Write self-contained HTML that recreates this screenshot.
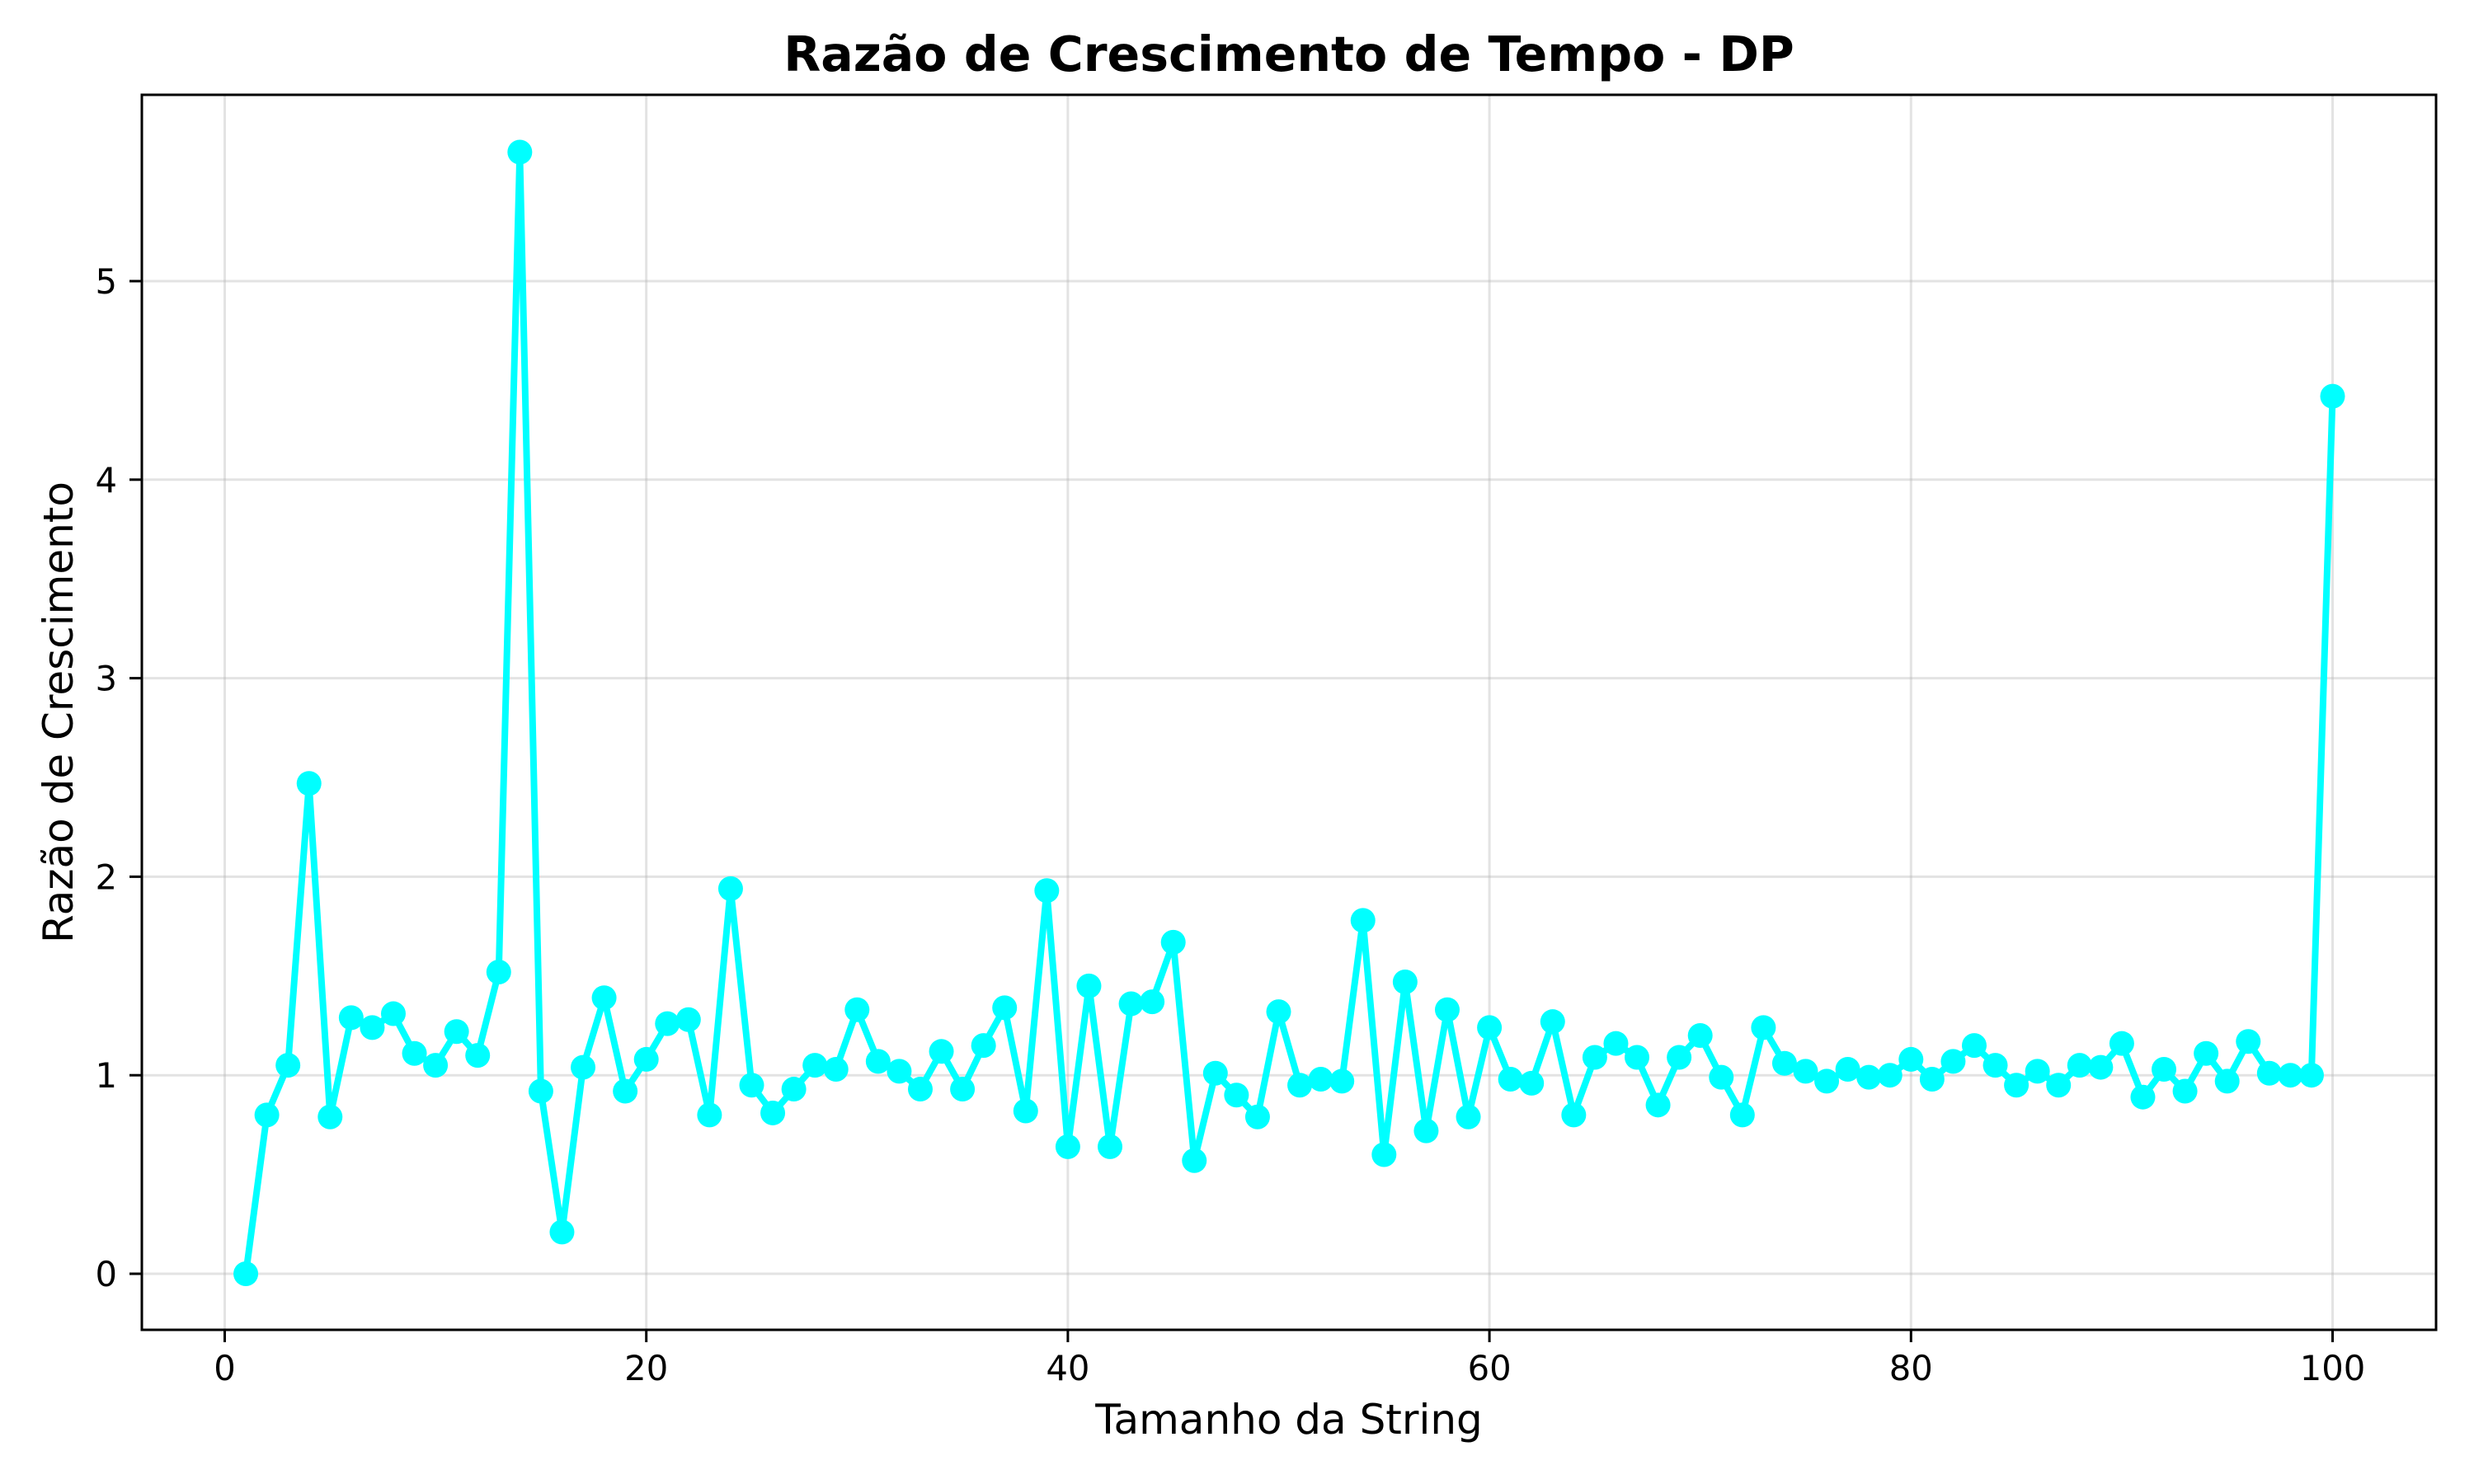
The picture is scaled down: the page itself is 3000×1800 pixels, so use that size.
<!DOCTYPE html>
<html><head><meta charset="utf-8"><style>
html,body{margin:0;padding:0;background:#fff;}
svg{display:block;font-family:"DejaVu Sans","Liberation Sans",sans-serif;}
</style></head><body>
<svg id="chart" width="3000" height="1800" viewBox="0 0 3000 1800" xmlns="http://www.w3.org/2000/svg">
<rect x="0" y="0" width="3000" height="1800" fill="#fff"/>
<g id="grid"></g>
<g id="series"></g>
<rect x="172" y="115" width="2782" height="1498" fill="none" stroke="#000" stroke-width="3"/>
<g id="ticks"></g>
<text x="1563" y="86" text-anchor="middle" font-size="58.5" font-weight="bold">Razão de Crescimento de Tempo - DP</text>
<text x="1563" y="1739" text-anchor="middle" font-size="50">Tamanho da String</text>
<text transform="translate(88,864) rotate(-90)" text-anchor="middle" font-size="50">Razão de Crescimento</text>
</svg>
<script>
const ratios = [0,0.80,1.05,2.47,0.79,1.29,1.24,1.31,1.11,1.05,1.22,1.10,1.52,5.65,0.92,0.21,1.04,1.39,0.92,1.08,
1.26,1.28,0.80,1.94,0.95,0.81,0.93,1.05,1.03,1.33,1.07,1.02,0.93,1.12,0.93,1.15,1.34,0.82,1.93,0.64,
1.45,0.64,1.36,1.37,1.67,0.57,1.01,0.90,0.79,1.32,0.95,0.98,0.97,1.78,0.60,1.47,0.72,1.33,0.79,1.24,
0.98,0.96,1.27,0.80,1.09,1.16,1.09,0.85,1.09,1.20,0.99,0.80,1.24,1.06,1.02,0.97,1.03,0.99,1.00,1.08,
0.98,1.07,1.15,1.05,0.95,1.02,0.95,1.05,1.04,1.16,0.89,1.03,0.92,1.11,0.97,1.17,1.01,1.00,1.00,4.42];
const xTicks = [0,20,40,60,80,100];
const yTicks = [0,1,2,3,4,5];
const NS='http://www.w3.org/2000/svg';
function xs(v){return 272.5+v*25.56;}
function ys(v){return 1545-v*240.8;}
function mk(tag,attrs,parent){const e=document.createElementNS(NS,tag);for(const k in attrs)e.setAttribute(k,attrs[k]);parent.appendChild(e);return e;}
const grid=document.getElementById('grid'),ticks=document.getElementById('ticks'),series=document.getElementById('series');
xTicks.forEach(t=>{
  const g=mk('line',{x1:xs(t),x2:xs(t),y1:115,y2:1613,stroke:'#b0b0b0','stroke-opacity':0.35,'stroke-width':3},grid);
  
  
  const tk=mk('line',{x1:xs(t),x2:xs(t),y1:1613,y2:1628,stroke:'#000','stroke-width':3},ticks);
  
  
  const tl=mk('text',{x:xs(t),y:1674,'text-anchor':'middle','font-size':41.7},ticks);
  tl.textContent=t;
  
  
});
yTicks.forEach(t=>{
  const g=mk('line',{x1:172,x2:2954,y1:ys(t),y2:ys(t),stroke:'#b0b0b0','stroke-opacity':0.35,'stroke-width':3},grid);
  
  
  const tk=mk('line',{x1:157,x2:172,y1:ys(t),y2:ys(t),stroke:'#000','stroke-width':3},ticks);
  
  
  const tl=mk('text',{x:142,y:ys(t)+15,'text-anchor':'end','font-size':41.7},ticks);
  tl.textContent=t;
  
  
});
const pts=ratios.map((v,i)=>xs(i+1).toFixed(1)+','+ys(v).toFixed(1)).join(' ');
const line=mk('polyline',{points:pts,fill:'none',stroke:'#00ffff','stroke-width':8,'stroke-linejoin':'round'},series);


ratios.forEach((v,i)=>{
  const c=mk('circle',{cx:xs(i+1),cy:ys(v),r:15,fill:'#00ffff'},series);
  
  
});
</script>
</body></html>
